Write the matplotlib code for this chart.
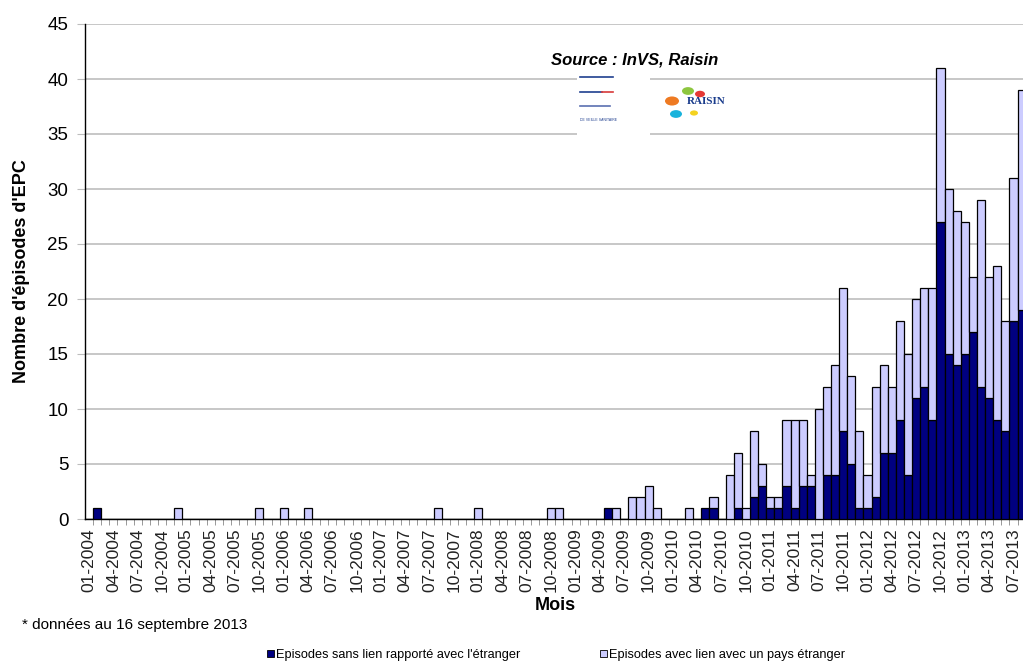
import numpy as np
import matplotlib
matplotlib.use('Agg')
import matplotlib.pyplot as plt
from matplotlib.patches import Patch, Rectangle, Circle

plt.rcParams['font.family'] = ['Liberation Sans', 'DejaVu Sans']

# monthly episodes, 01-2004 .. 08-2013 (one row per year)
sans_lien = (
    [0, 1, 0, 0, 0, 0, 0, 0, 0, 0, 0, 0] +      # 2004
    [0, 0, 0, 0, 0, 0, 0, 0, 0, 0, 0, 0] +      # 2005
    [0, 0, 0, 0, 0, 0, 0, 0, 0, 0, 0, 0] +      # 2006
    [0, 0, 0, 0, 0, 0, 0, 0, 0, 0, 0, 0] +      # 2007
    [0, 0, 0, 0, 0, 0, 0, 0, 0, 0, 0, 0] +      # 2008
    [0, 0, 0, 0, 1, 0, 0, 0, 0, 0, 0, 0] +      # 2009
    [0, 0, 0, 0, 1, 1, 0, 0, 1, 0, 2, 3] +      # 2010
    [1, 1, 3, 1, 3, 3, 0, 4, 4, 8, 5, 1] +      # 2011
    [1, 2, 6, 6, 9, 4, 11, 12, 9, 27, 15, 14] +  # 2012
    [15, 17, 12, 11, 9, 8, 18, 19]              # 2013
)
avec_lien = (
    [0, 0, 0, 0, 0, 0, 0, 0, 0, 0, 0, 1] +
    [0, 0, 0, 0, 0, 0, 0, 0, 0, 1, 0, 0] +
    [1, 0, 0, 1, 0, 0, 0, 0, 0, 0, 0, 0] +
    [0, 0, 0, 0, 0, 0, 0, 1, 0, 0, 0, 0] +
    [1, 0, 0, 0, 0, 0, 0, 0, 0, 1, 1, 0] +
    [0, 0, 0, 0, 0, 1, 0, 2, 2, 3, 1, 0] +
    [0, 0, 1, 0, 0, 1, 0, 4, 5, 1, 6, 2] +
    [1, 1, 6, 8, 6, 1, 10, 8, 10, 13, 8, 7] +
    [3, 10, 8, 6, 9, 11, 9, 9, 12, 14, 15, 14] +
    [12, 5, 17, 11, 14, 10, 13, 20]
)
years = list(range(2004, 2014))
month_labels = [f'{m:02d}-{y}' for y in years for m in range(1, 13)][:len(sans_lien)]

dark = np.array(sans_lien, dtype=float)
light = np.array(avec_lien, dtype=float)
x = np.arange(len(dark))

c_dark = '#000080'
c_light = '#ccccff'

fig = plt.figure(figsize=(10.23, 6.64), dpi=100)
ax = fig.add_axes([85 / 1023, 145 / 664, 938 / 1023, 495 / 664])

md = dark > 0
ax.bar(x[md], dark[md], width=1.0, color=c_dark, edgecolor='black', linewidth=0.9, zorder=3)
ml = light > 0
ax.bar(x[ml], light[ml], bottom=dark[ml], width=1.0, color=c_light, edgecolor='black',
       linewidth=0.9, zorder=3)

ax.set_xlim(-0.5, 115.17)
ax.set_ylim(0, 45)
ax.set_yticks(np.arange(0, 46, 5))
ax.yaxis.grid(True, color='#bdbdbd', linewidth=1.2)
ax.set_axisbelow(True)
ax.tick_params(axis='y', length=6, color='#bdbdbd', labelsize=13.5, pad=6)

ax.set_xticks(x[::3])
ax.set_xticklabels(month_labels[::3], rotation=90, fontsize=12.5, color='#222222')
ax.set_xticks(np.arange(0.5, 115, 1), minor=True)
ax.tick_params(axis='x', which='major', length=0, pad=7)
ax.tick_params(axis='x', which='minor', length=4, color='#888888')

for s in ['top', 'right']:
    ax.spines[s].set_visible(False)
ax.spines['left'].set_color('black')
ax.spines['bottom'].set_color('black')
ax.spines['left'].set_linewidth(1.0)
ax.spines['bottom'].set_linewidth(1.0)

fig.text(22 / 1023, (664 - 271) / 664, "Nombre d'épisodes d'EPC", rotation=90,
         ha='center', va='center', fontsize=13, fontweight='bold')
fig.text(555 / 1023, (664 - 606) / 664, 'Mois', ha='center', va='center',
         fontsize=13, fontweight='bold')
fig.text(22 / 1023, (664 - 625) / 664, '* données au 16 septembre 2013',
         ha='left', va='center', fontsize=11)

# source and logos
fig.text(635 / 1023, (664 - 60) / 664, 'Source : InVS, Raisin', ha='center', va='center',
         fontsize=12, fontweight='bold', style='italic')
fig.patches.append(Rectangle((577 / 1023, (664 - 140) / 664), 73 / 1023, 70 / 664,
                             transform=fig.transFigure, facecolor='white',
                             edgecolor='none', zorder=5))
for yy, cc, w in [(77, '#1f3f8f', 33), (92, '#1f3f8f', 22), (106, '#5a6fb0', 30)]:
    fig.lines.append(plt.Line2D([580 / 1023, (580 + w) / 1023],
                                [(664 - yy) / 664] * 2, color=cc, lw=1.2,
                                transform=fig.transFigure, zorder=6))
fig.lines.append(plt.Line2D([602 / 1023, 613 / 1023], [(664 - 92) / 664] * 2,
                            color='#d83a3a', lw=1.2, transform=fig.transFigure, zorder=6))
fig.text(580 / 1023, (664 - 121) / 664, 'DE VEILLE SANITAIRE', fontsize=2.5,
         color='#1f3f8f', zorder=6)
for cx, cy, r, cc in [(672, 101, 7, '#ee7a22'), (688, 91, 6, '#8dc63f'),
                      (700, 94, 5, '#e53935'), (676, 114, 6, '#19b3dc'),
                      (694, 113, 4, '#f4d21f')]:
    fig.patches.append(Circle((cx / 1023, (664 - cy) / 664), r / 1023,
                              transform=fig.transFigure, facecolor=cc,
                              edgecolor='none', zorder=6))
fig.text(706 / 1023, (664 - 101) / 664, 'RAISIN', fontsize=8, fontweight='bold',
         family='Liberation Serif', color='#1a3c8c', ha='center', va='center', zorder=7)

handles = [Patch(facecolor=c_dark, edgecolor='black', linewidth=0.6),
           Patch(facecolor=c_light, edgecolor='black', linewidth=0.6)]
fig.legend(handles, ["Episodes sans lien rapporté avec l'étranger",
                     'Episodes avec lien avec un pays étranger'],
           loc='center', bbox_to_anchor=(556 / 1023, 9 / 664), ncol=2, frameon=False,
           fontsize=9.2, handlelength=0.55, handleheight=0.55, handletextpad=0.2,
           columnspacing=6.2)

fig.savefig('out.png', dpi=100)
